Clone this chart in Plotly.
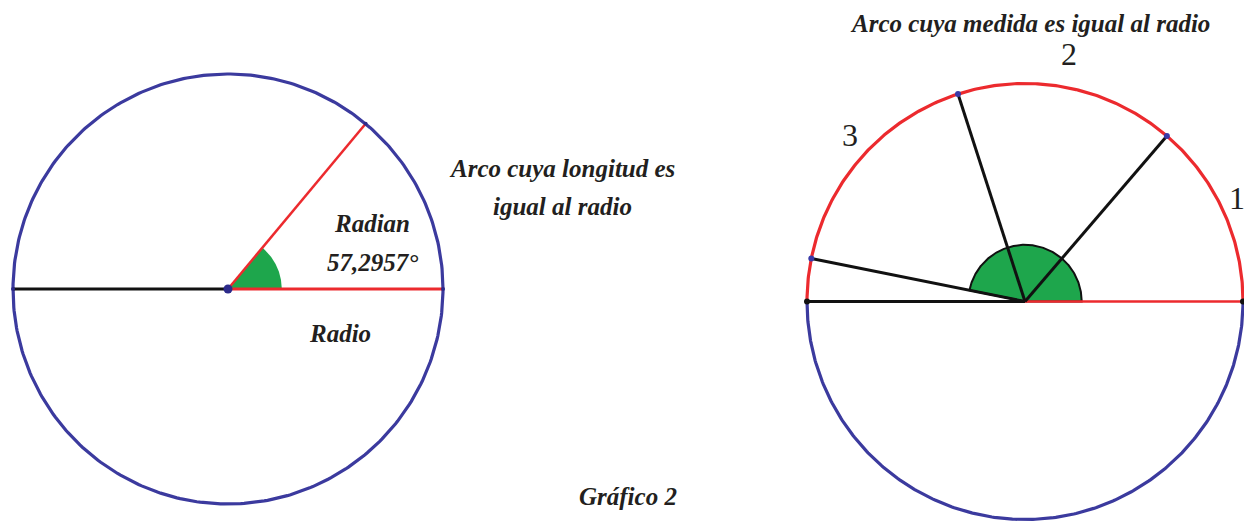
import numpy as np
import plotly.graph_objects as go

# The page body has an 8px margin: the figure is sized so it fits the window without scrollbars
OFF = 8
W, H = 1236, 514

# ---------------- data ----------------
left_radian_angle_deg = 50.2                 # drawn opening of the 1-radian angle (left figure)
left_sector_radius = 0.25                    # green angle marker, in circle radii
right_mark_angles_deg = [49.4, 107.9, 168.6] # points closing arcs 1, 2, 3 (right figure)
right_sector_radius = 0.26
arc_numbers = ["1", "2", "3"]
left_texts = ["Radian", "57,2957°", "Radio"]
middle_texts = ["Arco cuya longitud es", "igual al radio"]
title_right = "Arco cuya medida es igual al radio"
caption = "Gráfico 2"

BLUE = "#3b3a9e"
RED = "#ec2a2e"
GREEN = "#1ea64c"
BLACK = "#111111"
TEXT = "#231f20"

# ---------------- layout geometry (window pixels) ----------------
L_CX, L_CY, L_R = 228, 289, 215
R_CX, R_CY, R_R = 1025, 301.5, 218


def arc(a0, a1, r=1.0, n=200):
    t = np.radians(np.linspace(a0, a1, n))
    return r * np.cos(t), r * np.sin(t)


def pol(a, r=1.0):
    t = np.radians(a)
    return r * np.cos(t), r * np.sin(t)


fig = go.Figure()

# ---------- left figure (xaxis / yaxis) ----------
sx, sy = arc(0, left_radian_angle_deg, left_sector_radius)
fig.add_trace(go.Scatter(x=np.r_[0, sx, 0], y=np.r_[0, sy, 0], fill="toself",
                         fillcolor=GREEN, line=dict(width=0), mode="lines",
                         xaxis="x", yaxis="y"))
cx, cy = arc(0, 360, 1.0, 400)
fig.add_trace(go.Scatter(x=cx, y=cy, mode="lines", line=dict(color=BLUE, width=3.2),
                         xaxis="x", yaxis="y"))
fig.add_trace(go.Scatter(x=[-1, 0], y=[0, 0], mode="lines", line=dict(color=BLACK, width=3),
                         xaxis="x", yaxis="y"))
fig.add_trace(go.Scatter(x=[0, 1], y=[0, 0], mode="lines", line=dict(color=RED, width=3),
                         xaxis="x", yaxis="y"))
px_, py_ = pol(left_radian_angle_deg)
fig.add_trace(go.Scatter(x=[0, px_], y=[0, py_], mode="lines", line=dict(color=RED, width=2.5),
                         xaxis="x", yaxis="y"))
fig.add_trace(go.Scatter(x=[0], y=[0], mode="markers",
                         marker=dict(color="#2c2a8a", size=9),
                         xaxis="x", yaxis="y"))
fig.add_trace(go.Scatter(x=[-1, 1, px_], y=[0, 0, py_], mode="markers",
                         marker=dict(color="#2c2a8a", size=4),
                         xaxis="x", yaxis="y"))

# ---------- right figure (xaxis2 / yaxis2) ----------
gx, gy = arc(0, right_mark_angles_deg[-1], right_sector_radius)
fig.add_trace(go.Scatter(x=np.r_[0, gx, 0], y=np.r_[0, gy, 0], fill="toself",
                         fillcolor=GREEN, line=dict(color=BLACK, width=2), mode="lines",
                         xaxis="x2", yaxis="y2"))
bx, by = arc(180, 360, 1.0, 300)
fig.add_trace(go.Scatter(x=bx, y=by, mode="lines", line=dict(color=BLUE, width=3.2),
                         xaxis="x2", yaxis="y2"))
rx, ry = arc(0, 180, 1.0, 300)
fig.add_trace(go.Scatter(x=rx, y=ry, mode="lines", line=dict(color=RED, width=3.2),
                         xaxis="x2", yaxis="y2"))
fig.add_trace(go.Scatter(x=[-1, 0], y=[0, 0], mode="lines", line=dict(color=BLACK, width=3),
                         xaxis="x2", yaxis="y2"))
fig.add_trace(go.Scatter(x=[0, 1], y=[0, 0], mode="lines", line=dict(color=RED, width=2.5),
                         xaxis="x2", yaxis="y2"))
for a in right_mark_angles_deg:
    qx, qy = pol(a)
    fig.add_trace(go.Scatter(x=[0, qx], y=[0, qy], mode="lines",
                             line=dict(color=BLACK, width=3),
                             xaxis="x2", yaxis="y2"))
mx, my = pol(np.array(right_mark_angles_deg))
fig.add_trace(go.Scatter(x=mx, y=my, mode="markers", marker=dict(color="#3a3aa8", size=6),
                         xaxis="x2", yaxis="y2", cliponaxis=False))
fig.add_trace(go.Scatter(x=[-1, 1], y=[0, 0], mode="markers", marker=dict(color=BLACK, size=6),
                         xaxis="x2", yaxis="y2", cliponaxis=False))

# ---------------- axes ----------------
ax_common = dict(visible=False, showgrid=False, zeroline=False, fixedrange=True)
# window-pixel extents of each subplot
LX0, LX1 = OFF, 456
RX0, RX1 = 790, OFF + W
Y0, Y1 = OFF, OFF + H
fig.update_layout(
    width=W, height=H,
    margin=dict(l=0, r=0, t=0, b=0),
    paper_bgcolor="white", plot_bgcolor="rgba(0,0,0,0)",
    showlegend=False,
    xaxis=dict(domain=[(LX0 - OFF) / W, (LX1 - OFF) / W],
               range=[(LX0 - L_CX) / L_R, (LX1 - L_CX) / L_R], **ax_common),
    yaxis=dict(domain=[0, 1], range=[-(Y1 - L_CY) / L_R, (L_CY - Y0) / L_R], **ax_common),
    xaxis2=dict(domain=[(RX0 - OFF) / W, (RX1 - OFF) / W],
                range=[(RX0 - R_CX) / R_R, (RX1 - R_CX) / R_R], **ax_common),
    yaxis2=dict(domain=[0, 1], range=[-(Y1 - R_CY) / R_R, (R_CY - Y0) / R_R], **ax_common),
)

SERIF = "Liberation Serif, Times New Roman, serif"


def label(text, x, y, size, bold_italic=True, pad=1):
    t = f"<b><i>{text}</i></b>" if bold_italic else text
    fig.add_annotation(text=t, x=(x - OFF) / W, y=1 - (y - OFF) / H,
                       xref="paper", yref="paper",
                       showarrow=False, xanchor="center", yanchor="middle",
                       borderpad=pad,
                       font=dict(family=SERIF, size=size, color=TEXT))


label(title_right, 1030, 23, 25, pad=0)
label(middle_texts[0], 562, 168, 25)
label(middle_texts[1], 562, 207, 25)
label(left_texts[0], 372, 223, 25)
label(left_texts[1], 372, 262, 25)
label(left_texts[2], 340, 333, 25)
label(caption, 628, 496, 25)

number_pos = [(1237, 198), (1069, 54), (850, 135)]
for txt, (x, y) in zip(arc_numbers, number_pos):
    label(txt, x, y, 32, bold_italic=False)

fig.write_html("out.html")
